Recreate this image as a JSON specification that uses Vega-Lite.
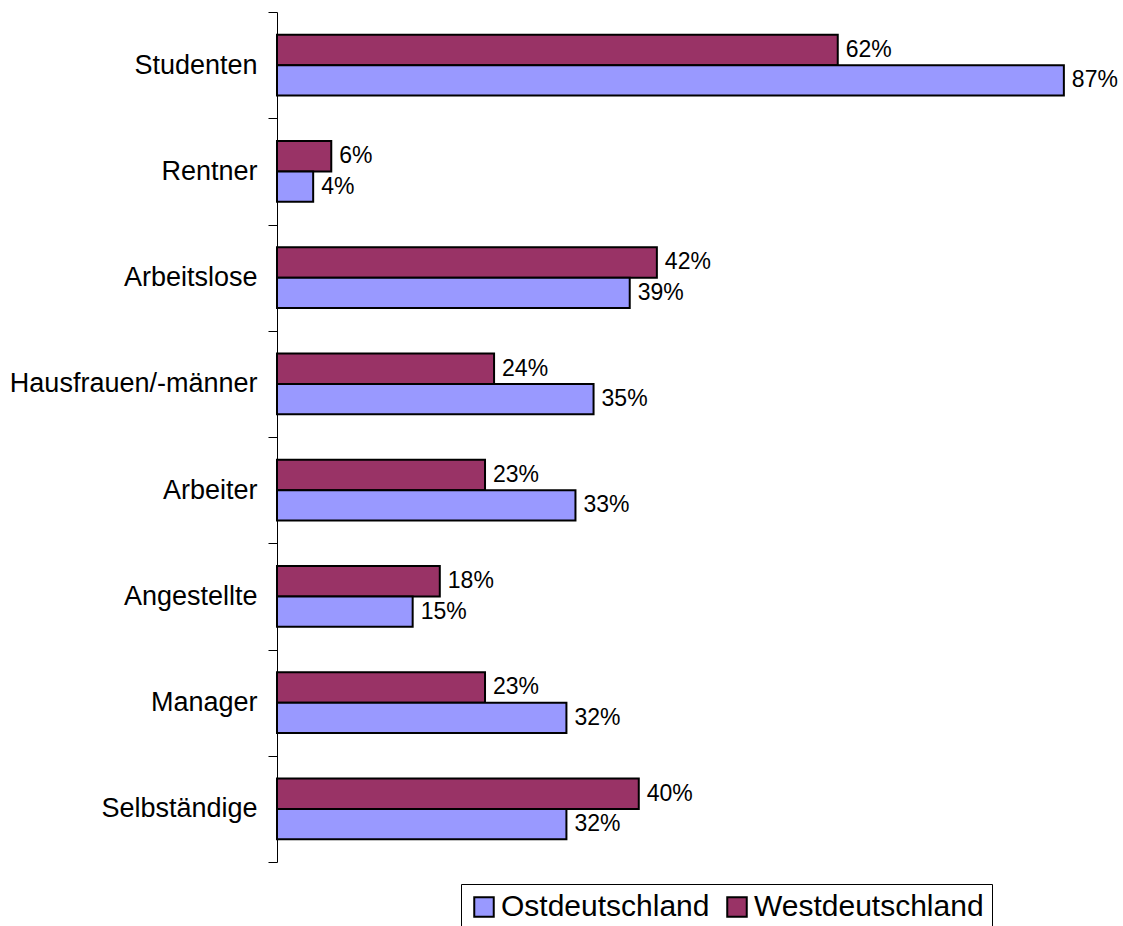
{
  "$schema": "https://vega.github.io/schema/vega-lite/v6.json",
  "autosize": {"type": "none"},
  "padding": {"left": 277, "top": 12, "right": 32, "bottom": 64},
  "width": 814,
  "height": 850,
  "background": "white",
  "config": {"view": {"stroke": null}, "font": "Liberation Sans"},
  "data": {
    "values": [
      {"group": "Studenten", "region": "Westdeutschland", "value": 0.62},
      {"group": "Studenten", "region": "Ostdeutschland", "value": 0.87},
      {"group": "Rentner", "region": "Westdeutschland", "value": 0.06},
      {"group": "Rentner", "region": "Ostdeutschland", "value": 0.04},
      {"group": "Arbeitslose", "region": "Westdeutschland", "value": 0.42},
      {"group": "Arbeitslose", "region": "Ostdeutschland", "value": 0.39},
      {"group": "Hausfrauen/-männer", "region": "Westdeutschland", "value": 0.24},
      {"group": "Hausfrauen/-männer", "region": "Ostdeutschland", "value": 0.35},
      {"group": "Arbeiter", "region": "Westdeutschland", "value": 0.23},
      {"group": "Arbeiter", "region": "Ostdeutschland", "value": 0.33},
      {"group": "Angestellte", "region": "Westdeutschland", "value": 0.18},
      {"group": "Angestellte", "region": "Ostdeutschland", "value": 0.15},
      {"group": "Manager", "region": "Westdeutschland", "value": 0.23},
      {"group": "Manager", "region": "Ostdeutschland", "value": 0.32},
      {"group": "Selbständige", "region": "Westdeutschland", "value": 0.40},
      {"group": "Selbständige", "region": "Ostdeutschland", "value": 0.32}
    ]
  },
  "encoding": {
    "y": {
      "field": "group",
      "type": "nominal",
      "sort": ["Studenten", "Rentner", "Arbeitslose", "Hausfrauen/-männer", "Arbeiter", "Angestellte", "Manager", "Selbständige"],
      "scale": {"paddingInner": 0, "paddingOuter": 0},
      "axis": {
        "title": null,
        "tickBand": "extent",
        "tickSize": 9,
        "tickColor": "black",
        "domainColor": "black",
        "domainWidth": 1,
        "tickWidth": 1,
        "labelFontSize": 27,
        "labelColor": "black",
        "labelPadding": 11,
        "labelLimit": 0,
        "labelFont": "Liberation Sans"
      }
    },
    "yOffset": {
      "field": "region",
      "type": "nominal",
      "sort": ["Westdeutschland", "Ostdeutschland"],
      "scale": {"paddingInner": 0, "paddingOuter": 0.75}
    },
    "x": {
      "field": "value",
      "type": "quantitative",
      "scale": {"domain": [0, 0.9]},
      "axis": null
    }
  },
  "layer": [
    {
      "mark": {"type": "bar", "stroke": "black", "strokeWidth": 2, "opacity": 1},
      "encoding": {
        "color": {
          "field": "region",
          "type": "nominal",
          "scale": {"domain": ["Ostdeutschland", "Westdeutschland"], "range": ["#9999FF", "#993366"]},
          "legend": {
            "title": null,
            "orient": "none",
            "legendX": 184,
            "legendY": 872,
            "direction": "horizontal",
            "strokeColor": "black",
            "fillColor": "white",
            "padding": 8,
            "symbolType": "square",
            "symbolSize": 380,
            "symbolStrokeColor": "black",
            "symbolStrokeWidth": 2,
            "symbolOpacity": 1,
            "labelFontSize": 30,
            "labelFont": "Liberation Sans",
            "labelColor": "black",
            "labelLimit": 0,
            "labelOffset": 2,
            "columnPadding": 12
          }
        }
      }
    },
    {
      "mark": {"type": "text", "align": "left", "baseline": "middle", "dx": 8, "fontSize": 23, "color": "black", "font": "Liberation Sans"},
      "encoding": {
        "text": {"field": "value", "type": "quantitative", "format": ".0%"}
      }
    }
  ]
}
